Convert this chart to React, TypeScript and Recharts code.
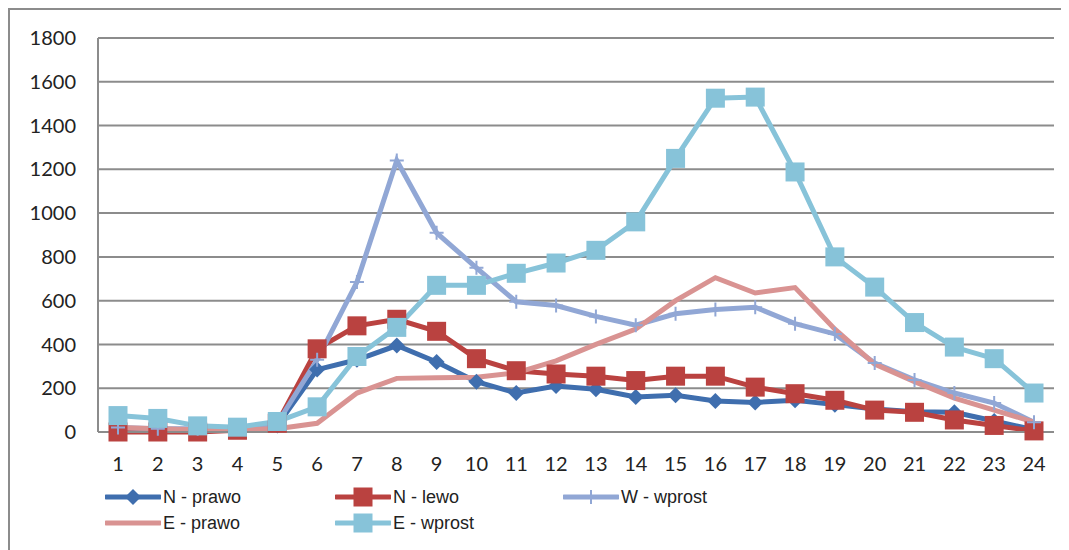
import * as React from "react";
import { LineChart, Line, XAxis, YAxis, CartesianGrid, Legend } from "recharts";

const hours = Array.from({ length: 24 }, (_, i) => String(i + 1));
const nPrawo = [5, 5, 5, 10, 30, 285, 330, 395, 320, 230, 178, 210, 195, 160, 168, 142, 135, 145, 125, 105, 92, 90, 50, 10];
const nLewo = [0, 0, 0, 8, 40, 380, 485, 515, 460, 335, 280, 265, 255, 235, 255, 255, 205, 175, 145, 100, 90, 55, 30, 5];
const wWprost = [20, 15, 15, 15, 40, 330, 685, 1240, 910, 750, 595, 578, 528, 488, 540, 560, 570, 495, 448, 315, 238, 178, 132, 45];
const ePrawo = [20, 15, 10, 10, 15, 40, 178, 245, 248, 250, 270, 325, 400, 470, 600, 705, 635, 660, 470, 310, 230, 155, 100, 45];
const eWprost = [75, 62, 28, 22, 48, 115, 345, 478, 670, 670, 725, 772, 830, 960, 1250, 1525, 1530, 1188, 800, 662, 500, 388, 335, 178];
const yTicks = [0, 200, 400, 600, 800, 1000, 1200, 1400, 1600, 1800];

const data = hours.map((h, i) => ({
  h,
  np: nPrawo[i],
  nl: nLewo[i],
  ww: wWprost[i],
  ep: ePrawo[i],
  ew: eWprost[i],
}));

const C = {
  np: "#3F6EAE",
  nl: "#BA4240",
  ww: "#91A7D5",
  ep: "#D99392",
  ew: "#87C3D9",
};

const grid = "#8c8c8c";

function Diamond({ cx, cy, color }: any) {
  const r = 8;
  return <path d={`M${cx},${cy - r}L${cx + r},${cy}L${cx},${cy + r}L${cx - r},${cy}Z`} fill={color} />;
}
function Square({ cx, cy, color }: any) {
  const s = 19;
  return <rect x={cx - s / 2} y={cy - s / 2} width={s} height={s} fill={color} />;
}
function Plus({ cx, cy, color }: any) {
  const r = 7;
  return <path d={`M${cx - r},${cy}H${cx + r}M${cx},${cy - r}V${cy + r}`} stroke={color} strokeWidth={2} fill="none" />;
}

const mk = (Comp: any, color: string) => (p: any) =>
  p.cx == null ? <g key={p.index} /> : <Comp key={p.index} cx={p.cx} cy={p.cy} color={color} />;

const legendItems = [
  { name: "N - prawo", color: C.np, M: Diamond, col: 0, row: 0 },
  { name: "N - lewo", color: C.nl, M: Square, col: 1, row: 0 },
  { name: "W - wprost", color: C.ww, M: Plus, col: 2, row: 0 },
  { name: "E - prawo", color: C.ep, M: null, col: 0, row: 1 },
  { name: "E - wprost", color: C.ew, M: Square, col: 1, row: 1 },
];

function LegendBox() {
  const colX = [0, 230, 458];
  return (
    <div style={{ position: "relative", width: 700, height: 60 }}>
      {legendItems.map((it) => (
        <div
          key={it.name}
          style={{
            position: "absolute",
            left: colX[it.col],
            top: 15 + it.row * 26,
            height: 20,
            display: "flex",
            alignItems: "center",
          }}
        >
          <svg width={56} height={20}>
            <line x1={1} y1={10} x2={55} y2={10} stroke={it.color} strokeWidth={5} strokeLinecap="round" />
            {it.M ? <it.M cx={28} cy={10} color={it.color} /> : null}
          </svg>
          <span style={{ marginLeft: 2, fontFamily: "'Liberation Sans', Arial, sans-serif", fontSize: 18, color: "#222" }}>
            {it.name}
          </span>
        </div>
      ))}
    </div>
  );
}

export default function App() {
  const tickStyle = { fontFamily: "Lato, sans-serif", fontSize: 20, fill: "#222" };
  return (
    <div
      style={{
        width: 1059,
        height: 540,
        borderTop: `2px solid ${grid}`,
        borderLeft: `2px solid ${grid}`,
        background: "#fff",
      }}
    >
      <LineChart width={1059} height={540} data={data} margin={{ top: 28, right: 15, left: 28, bottom: 18 }}>
        <CartesianGrid vertical={false} stroke={grid} strokeWidth={2} />
        <XAxis
          dataKey="h"
          interval={0}
          padding={{ left: 20, right: 20 }}
          height={40}
          tickLine={false}
          tickSize={0}
          tickMargin={25}
          axisLine={{ stroke: grid, strokeWidth: 2 }}
          tick={tickStyle}
        />
        <YAxis
          domain={[0, 1800]}
          ticks={yTicks}
          width={60}
          interval={0}
          tickLine={false}
          tickSize={0}
          tickMargin={22}
          axisLine={{ stroke: grid, strokeWidth: 2 }}
          tick={tickStyle}
        />
        <Legend
          verticalAlign="bottom"
          content={() => <LegendBox />}
          wrapperStyle={{ left: 95, width: 700, height: 60 }}
        />
        <Line dataKey="np" name="N - prawo" stroke={C.np} strokeWidth={5} dot={mk(Diamond, C.np)} activeDot={false} isAnimationActive={false} />
        <Line dataKey="nl" name="N - lewo" stroke={C.nl} strokeWidth={5} dot={mk(Square, C.nl)} activeDot={false} isAnimationActive={false} />
        <Line dataKey="ww" name="W - wprost" stroke={C.ww} strokeWidth={5} dot={mk(Plus, C.ww)} activeDot={false} isAnimationActive={false} />
        <Line dataKey="ep" name="E - prawo" stroke={C.ep} strokeWidth={5} dot={false} activeDot={false} isAnimationActive={false} />
        <Line dataKey="ew" name="E - wprost" stroke={C.ew} strokeWidth={5} dot={mk(Square, C.ew)} activeDot={false} isAnimationActive={false} />
      </LineChart>
    </div>
  );
}
